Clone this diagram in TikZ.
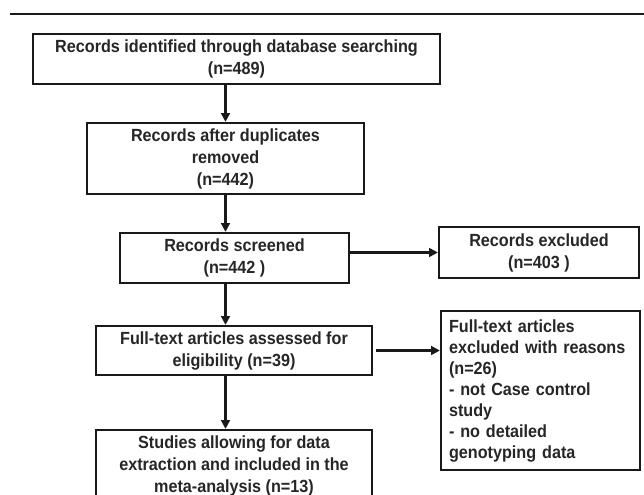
\documentclass[tikz,border=0pt]{standalone}
\usepackage{fontspec}
\newfontfamily\boxfont[FakeStretch=0.92]{Liberation Sans Bold}
\usetikzlibrary{arrows.meta}
\begin{document}
\begin{tikzpicture}[x=0.75pt,y=-0.75pt,
  box/.style={draw=black!90, line width=1.7pt, align=center, inner sep=0pt,
    font=\boxfont\fontsize{13.2}{16.5}\selectfont, text=black!85},
  arr/.style={draw=black!90, line width=1.8pt, -{Triangle[length=6.5pt,width=6.5pt]}},
  rule/.style={draw=black!90, line width=2pt}]
\useasboundingbox (0,0) rectangle (644,495);
\clip (0,0) rectangle (644,495);
\coordinate (rl) at (10,14);
\coordinate (rr) at (644,14);
\draw[rule] (rl) -- (rr);
\node[box, minimum width=407*0.75pt, minimum height=50*0.75pt] (b1) at (236.5,59)
  {Records identified through database searching\\(n=489)};
\node[box, minimum width=277*0.75pt, minimum height=71*0.75pt] (b2) at (225.5,158.5)
  {Records after duplicates\\removed\\(n=442)};
\node[box, minimum width=229*0.75pt, minimum height=50*0.75pt] (b3) at (234.5,258)
  {Records screened\\(n=442 )};
\node[box, minimum width=200*0.75pt, minimum height=51*0.75pt] (e1) at (539,252.5)
  {Records excluded\\(n=403 )};
\node[box, minimum width=276*0.75pt, minimum height=49*0.75pt] (b4) at (234,350.5)
  {Full-text articles assessed for\\eligibility (n=39)};
\node[box, align=left, text width=183*0.75pt, minimum width=199*0.75pt,
  minimum height=159*0.75pt, font=\boxfont\fontsize{13.2}{15.75}\selectfont] (e2) at (540.5,390.5)
  {Full-text articles\\excluded with reasons\\(n=26)\\- not Case control\\study\\- no detailed\\genotyping data};
\node[box, minimum width=276*0.75pt, minimum height=72*0.75pt] (b5) at (234,466)
  {Studies allowing for data\\extraction and included in the\\meta-analysis (n=13)};
\draw[arr] (b1.south -| b2.north) -- (b2.north);
\draw[arr] (b2.south) -- (b3.north -| b2.south);
\draw[arr] (b3.south -| b2.south) -- (b4.north -| b2.south);
\draw[arr] (b4.south -| b2.south) -- (b5.north -| b2.south);
\draw[arr] (b3.east |- e1.west) -- (e1.west);
\draw[arr] ([xshift=2.25pt]b4.east) -- (e2.west |- b4.east);
\end{tikzpicture}
\end{document}
